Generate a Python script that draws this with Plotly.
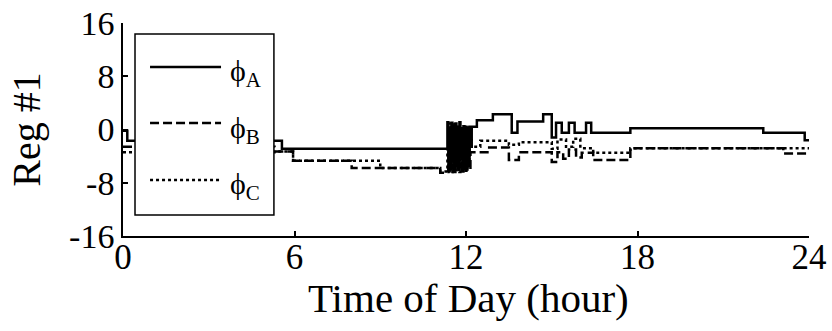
import plotly.graph_objects as go

# Regulator tap position per phase over one day (hours, tap steps)
hours_a_pre = [0.0, 0.15, 5.56]
reg_a_pre = [-0.2, -1.7, -2.9]
hours_b_pre = [0.0, 5.3, 5.95, 8.0, 11.1]
reg_b_pre = [-2.6, -3.3, -4.7, -5.8, -6.5]
hours_c_pre = [0.0, 5.3, 5.95, 9.0, 11.1]
reg_c_pre = [-3.4, -3.3, -4.7, -5.8, -6.3]

# Rapid tap hunting around midday
hours_hunt = [11.35, 11.385, 11.42, 11.455, 11.49, 11.525, 11.56, 11.595,
              11.63, 11.665, 11.70, 11.735, 11.77, 11.805, 11.84, 11.875,
              11.91, 11.945, 11.98, 12.015, 12.05, 12.085, 12.12, 12.155]
reg_a_hunt = [1.1, -6.2, 0.3, -5.9, 1.0, -4.8, 0.6, -6.4, 0.9, -5.5, 0.4, -6.1,
              1.1, -3.9, 0.2, -6.3, 0.5, -5.2, 0.4, -6.0, 0.3, -4.5, 0.4, -2.6]
reg_b_hunt = [-6.4, -1.0, -6.1, 0.5, -5.8, -2.0, -6.4, 0.8, -5.0, -1.5, -6.3, 0.2,
              -5.6, -0.8, -6.4, -2.2, -5.9, 0.1, -6.2, -1.2, -5.5, -0.5, -6.0, -3.4]
reg_c_hunt = [-3.0, -6.3, 0.9, -5.7, -1.8, -6.4, 0.2, -4.6, -6.1, 0.6, -5.2, -2.5,
              -6.4, 0.4, -4.9, -6.2, -1.1, -5.8, 0.3, -6.0, -2.8, -5.4, -1.5, -2.5]

hours_a_post = [12.2, 12.38, 12.94, 13.6, 13.8, 14.7, 15.0, 15.15, 15.35, 15.6,
                15.8, 16.2, 16.38, 17.75, 22.4, 23.85, 24.0]
reg_a_post = [0.4, 1.4, 2.3, -0.5, 1.2, 2.3, -1.2, 1.0, -0.5, 1.0,
              -0.5, 1.0, -0.5, 0.2, -0.5, -1.6, -1.6]
hours_b_post = [12.2, 12.75, 13.5, 13.85, 15.0, 15.2, 15.4, 15.6, 15.85, 16.05,
                16.45, 17.75, 23.1, 24.0]
reg_b_post = [-3.4, -2.7, -4.6, -3.4, -4.9, -3.4, -4.4, -3.0, -4.2, -3.5,
              -4.6, -2.8, -3.6, -3.6]
hours_c_post = [12.2, 12.5, 13.5, 13.85, 15.0, 15.2, 15.5, 15.75, 16.0, 16.45,
                17.75, 24.0]
reg_c_post = [-2.6, -1.7, -2.3, -1.9, -2.9, -1.5, -2.6, -1.4, -2.8, -3.5,
              -2.8, -2.8]

x_ticks = [0, 6, 12, 18, 24]
y_ticks = [16, 8, 0, -8, -16]
y_tick_text = ["16", "8", "0", "-8", "-16"]
phase_names = ["A", "B", "C"]

FONT = "Liberation Serif"
dashes = ["solid", "9px,4px", "3px,3px"]

series = [
    (hours_a_pre + hours_hunt + hours_a_post, reg_a_pre + reg_a_hunt + reg_a_post),
    (hours_b_pre + hours_hunt + hours_b_post, reg_b_pre + reg_b_hunt + reg_b_post),
    (hours_c_pre + hours_hunt + hours_c_post, reg_c_pre + reg_c_hunt + reg_c_post),
]

fig = go.Figure()
for (t, v), dash, name in zip(series, dashes, phase_names):
    fig.add_trace(go.Scatter(
        x=t, y=v, mode="lines", name=name, line_shape="hv",
        line=dict(color="black", width=2.5, dash=dash),
    ))

# Boxed legend drawn on top of the curves
shapes = [dict(type="rect", xref="paper", yref="paper", x0=0.0175, x1=0.220,
               y0=0.0986, y1=0.948, fillcolor="white",
               line=dict(color="black", width=1.5), layer="above")]
annotations = []
legend_rows = [0.793, 0.5305, 0.263]
text_rows = [0.765, 0.50, 0.235]
for name, dash, ly, ty in zip(phase_names, dashes, legend_rows, text_rows):
    shapes.append(dict(type="line", xref="paper", yref="paper", x0=0.0394,
                       x1=0.1429, y0=ly, y1=ly, layer="above",
                       line=dict(color="black", width=2.5, dash=dash)))
    annotations.append(dict(xref="paper", yref="paper", x=0.153, y=ty,
                            xanchor="left", yanchor="middle", showarrow=False,
                            text=f"ϕ<sub>{name}</sub>",
                            font=dict(family=FONT, size=30, color="black")))

# x-axis caption, placed directly under the tick labels
annotations.append(dict(xref="paper", yref="paper", x=0.504, y=-0.29,
                        xanchor="center", yanchor="middle", showarrow=False,
                        text="Time of Day (hour)",
                        font=dict(family=FONT, size=41, color="black")))

fig.update_layout(
    width=832, height=331,
    margin=dict(l=123, r=23, t=23, b=95, autoexpand=False),
    paper_bgcolor="white", plot_bgcolor="white",
    showlegend=False,
    shapes=shapes, annotations=annotations,
    font=dict(family=FONT, color="black"),
)
fig.update_xaxes(
    range=[0, 24], tickvals=x_ticks, ticks="inside", ticklen=5, tickwidth=1.5,
    tickcolor="black", showline=True, linecolor="black", linewidth=1.5,
    showgrid=False, zeroline=False, tickfont=dict(size=35),
    ticklabelstandoff=-11, automargin=False,
)
fig.update_yaxes(
    range=[-16, 16], tickvals=y_ticks, ticktext=y_tick_text, ticks="inside",
    ticklen=5, tickwidth=1.5, tickcolor="black", showline=True,
    linecolor="black", linewidth=1.5, showgrid=False, zeroline=False,
    tickfont=dict(size=34), ticklabelstandoff=0, automargin=False,
    title=dict(text="Reg #1", font=dict(size=40), standoff=16),
)

fig.write_html("out.html")
